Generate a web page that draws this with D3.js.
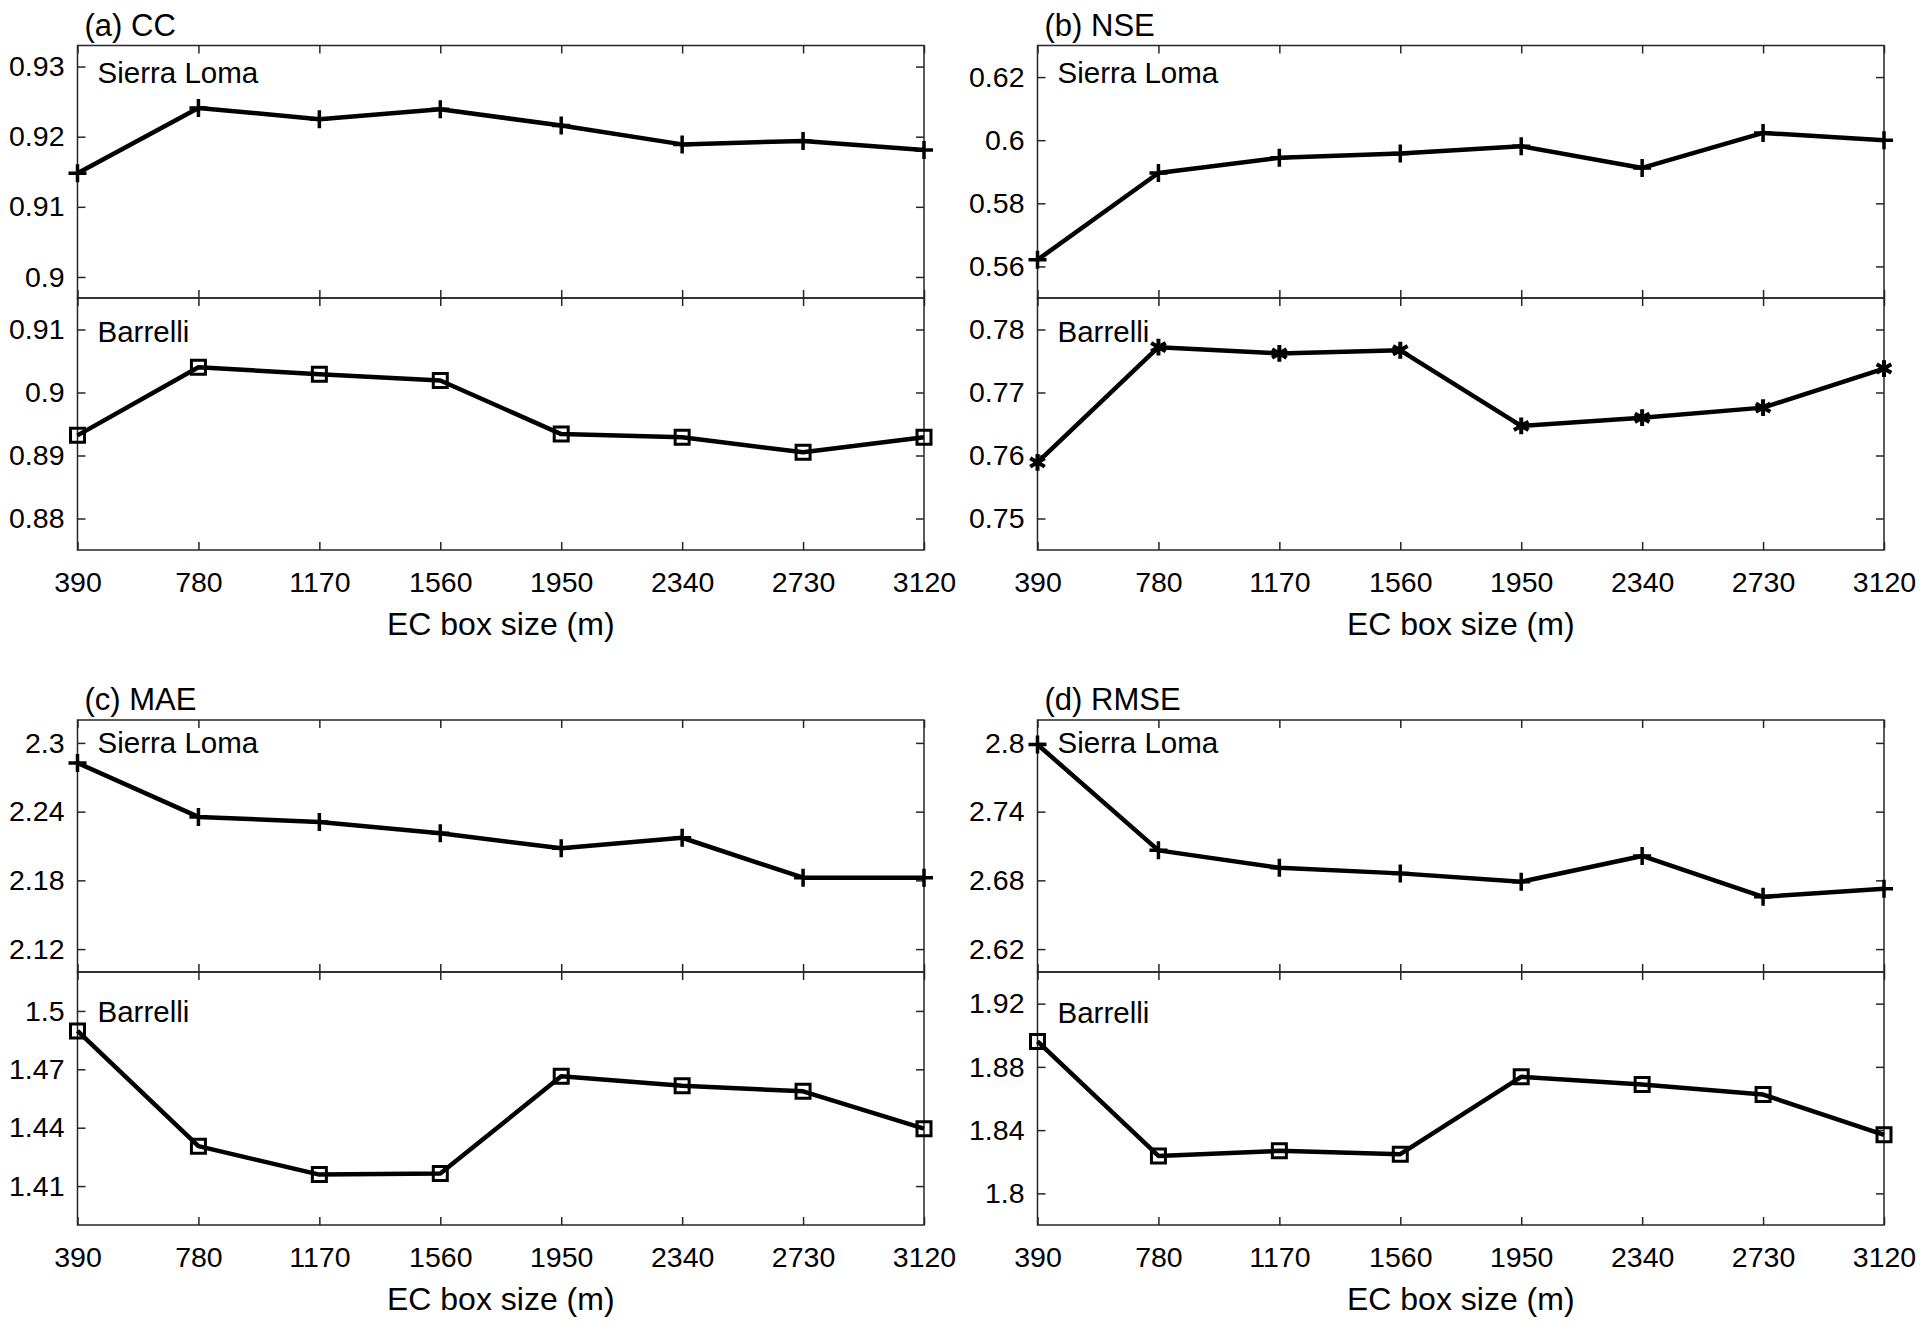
<!DOCTYPE html>
<html>
<head>
<meta charset="utf-8">
<script src="https://cdn.jsdelivr.net/npm/d3@7"></script>
<style>
  html, body { margin: 0; padding: 0; background: #ffffff; }
  svg { display: block; }
  text { font-family: "Liberation Sans", Arial, sans-serif; fill: #000; }
</style>
</head>
<body>
<svg id="chart" width="1920" height="1325"></svg>
<script>
// ---------------- data ----------------
const boxSizes = [390, 780, 1170, 1560, 1950, 2340, 2730, 3120];
const panelTitles = ["(a) CC", "(b) NSE", "(c) MAE", "(d) RMSE"];
const siteNames = ["Sierra Loma", "Barrelli"];

const ccSierra    = [0.9148, 0.9241, 0.9225, 0.9239, 0.9216, 0.9189, 0.9194, 0.9181];
const ccBarrelli  = [0.8932, 0.9040, 0.9029, 0.9019, 0.8934, 0.8929, 0.8905, 0.8929];
const nseSierra   = [0.5621, 0.5896, 0.5944, 0.5958, 0.5981, 0.5912, 0.6023, 0.6000];
const nseBarrelli = [0.7589, 0.7772, 0.7762, 0.7767, 0.7647, 0.7660, 0.7676, 0.7738];
const maeSierra   = [2.2825, 2.2354, 2.2310, 2.2211, 2.2080, 2.2172, 2.1823, 2.1823];
const maeBarrelli = [1.4897, 1.4305, 1.4159, 1.4164, 1.4664, 1.4616, 1.4587, 1.4395];
const rmseSierra  = [2.7986, 2.7062, 2.6910, 2.6861, 2.6788, 2.7013, 2.6656, 2.6726];
const rmseBarrelli= [1.8961, 1.8237, 1.8269, 1.8248, 1.8737, 1.8688, 1.8625, 1.8370];

// y tick labels per sub-axis
const ccSierraTicks    = [0.90, 0.91, 0.92, 0.93];
const ccBarrelliTicks  = [0.88, 0.89, 0.90, 0.91];
const nseSierraTicks   = [0.56, 0.58, 0.60, 0.62];
const nseBarrelliTicks = [0.75, 0.76, 0.77, 0.78];
const maeSierraTicks   = [2.12, 2.18, 2.24, 2.30];
const maeBarrelliTicks = [1.41, 1.44, 1.47, 1.50];
const rmseSierraTicks  = [2.62, 2.68, 2.74, 2.80];
const rmseBarrelliTicks= [1.80, 1.84, 1.88, 1.92];

// y domains per sub-axis
const ccSierraDomain    = [0.897, 0.933];
const ccBarrelliDomain  = [0.875, 0.915];
const nseSierraDomain   = [0.550, 0.630];
const nseBarrelliDomain = [0.745, 0.785];
const maeSierraDomain   = [2.100, 2.320];
const maeBarrelliDomain = [1.390, 1.520];
const rmseSierraDomain  = [2.600, 2.820];
const rmseBarrelliDomain= [1.780, 1.940];

// ---------------- layout ----------------
const cols = [[77.5, 924], [1037.5, 1884]];
const rows = [{top: 45.5, mid: 298, bot: 550}, {top: 720, mid: 972, bot: 1225}];
const labelOffsets = [[37, 44], [37, 44], [33, 50], [33, 51]];

const panels = [
  {title: panelTitles[0], col: 0, row: 0,
   subs: [{vals: ccSierra, ticks: ccSierraTicks, dom: ccSierraDomain, marker: "plus"},
          {vals: ccBarrelli, ticks: ccBarrelliTicks, dom: ccBarrelliDomain, marker: "square"}]},
  {title: panelTitles[1], col: 1, row: 0,
   subs: [{vals: nseSierra, ticks: nseSierraTicks, dom: nseSierraDomain, marker: "plus"},
          {vals: nseBarrelli, ticks: nseBarrelliTicks, dom: nseBarrelliDomain, marker: "asterisk"}]},
  {title: panelTitles[2], col: 0, row: 1,
   subs: [{vals: maeSierra, ticks: maeSierraTicks, dom: maeSierraDomain, marker: "plus"},
          {vals: maeBarrelli, ticks: maeBarrelliTicks, dom: maeBarrelliDomain, marker: "square"}]},
  {title: panelTitles[3], col: 1, row: 1,
   subs: [{vals: rmseSierra, ticks: rmseSierraTicks, dom: rmseSierraDomain, marker: "plus"},
          {vals: rmseBarrelli, ticks: rmseBarrelliTicks, dom: rmseBarrelliDomain, marker: "square"}]}
];

const AX = "#262626";
const TICK = 8;
const FONT = "Liberation Sans, Arial, sans-serif";
const svg = d3.select("#chart");
const fmt = v => String(+v.toFixed(3));

const markerPath = {
  plus: "M-9,0H9M0,-9V9",
  square: "M-7,-7H7V7H-7Z",
  asterisk: d3.symbol(d3.symbolAsterisk, 200)()
};
const markerStroke = {plus: 3.5, square: 3, asterisk: 4};

panels.forEach((p, pi) => {
  const [x0, x1] = cols[p.col];
  const r = rows[p.row];
  const g = svg.append("g");
  const x = d3.scaleLinear().domain([390, 3120]).range([x0, x1]);

  // panel title
  g.append("text").attr("x", x0 + 7).attr("y", r.top - 10)
    .attr("font-size", 31).text(p.title);

  p.subs.forEach((s, si) => {
    const yTop = si === 0 ? r.top : r.mid;
    const yBot = si === 0 ? r.mid : r.bot;
    const y = d3.scaleLinear().domain(s.dom).range([yBot, yTop]);
    const sg = g.append("g");

    // left axis
    sg.append("g").attr("transform", `translate(${x0},0)`)
      .call(d3.axisLeft(y).tickValues(s.ticks).tickFormat(fmt)
        .tickSizeInner(-TICK).tickSizeOuter(0).tickPadding(13))
      .call(a => a.select(".domain").remove())
      .call(a => a.selectAll("line").attr("stroke", AX).attr("stroke-width", 1.5))
      .call(a => a.selectAll("text").attr("font-size", 28.5).attr("font-family", FONT).attr("fill", "#000"));
    // right axis
    sg.append("g").attr("transform", `translate(${x1},0)`)
      .call(d3.axisRight(y).tickValues(s.ticks).tickFormat("")
        .tickSizeInner(-TICK).tickSizeOuter(0))
      .call(a => a.select(".domain").remove())
      .call(a => a.selectAll("line").attr("stroke", AX).attr("stroke-width", 1.5));
    // top axis
    sg.append("g").attr("transform", `translate(0,${yTop})`)
      .call(d3.axisTop(x).tickValues(boxSizes).tickFormat("")
        .tickSizeInner(-TICK).tickSizeOuter(0))
      .call(a => a.select(".domain").remove())
      .call(a => a.selectAll("line").attr("stroke", AX).attr("stroke-width", 1.5));
    // bottom axis
    sg.append("g").attr("transform", `translate(0,${yBot})`)
      .call(d3.axisBottom(x).tickValues(boxSizes).tickFormat(si === 1 ? d3.format("d") : "")
        .tickSizeInner(-TICK).tickSizeOuter(0).tickPadding(22))
      .call(a => a.select(".domain").remove())
      .call(a => a.selectAll("line").attr("stroke", AX).attr("stroke-width", 1.5))
      .call(a => a.selectAll("text").attr("font-size", 28.5).attr("font-family", FONT).attr("fill", "#000"));

    // box
    sg.append("rect").attr("x", x0).attr("y", yTop)
      .attr("width", x1 - x0).attr("height", yBot - yTop)
      .attr("fill", "none").attr("stroke", AX).attr("stroke-width", 1.5);

    // site label
    sg.append("text").attr("x", x0 + 20).attr("y", yTop + labelOffsets[pi][si])
      .attr("font-size", 29.5).text(siteNames[si]);

    // line
    const pts = boxSizes.map((b, i) => [b, s.vals[i]]);
    sg.append("path").datum(pts)
      .attr("d", d3.line().x(d => x(d[0])).y(d => y(d[1])))
      .attr("fill", "none").attr("stroke", "#000").attr("stroke-width", 4.5)
      .attr("stroke-linejoin", "round");

    // markers
    sg.selectAll(".mk").data(pts).enter().append("path")
      .attr("transform", d => `translate(${x(d[0])},${y(d[1])})`)
      .attr("d", markerPath[s.marker])
      .attr("fill", "none").attr("stroke", "#000")
      .attr("stroke-width", markerStroke[s.marker]);
  });

  // x axis title
  g.append("text").attr("x", (x0 + x1) / 2).attr("y", r.bot + 85)
    .attr("text-anchor", "middle").attr("font-size", 32).text("EC box size (m)");
});
</script>
</body>
</html>
